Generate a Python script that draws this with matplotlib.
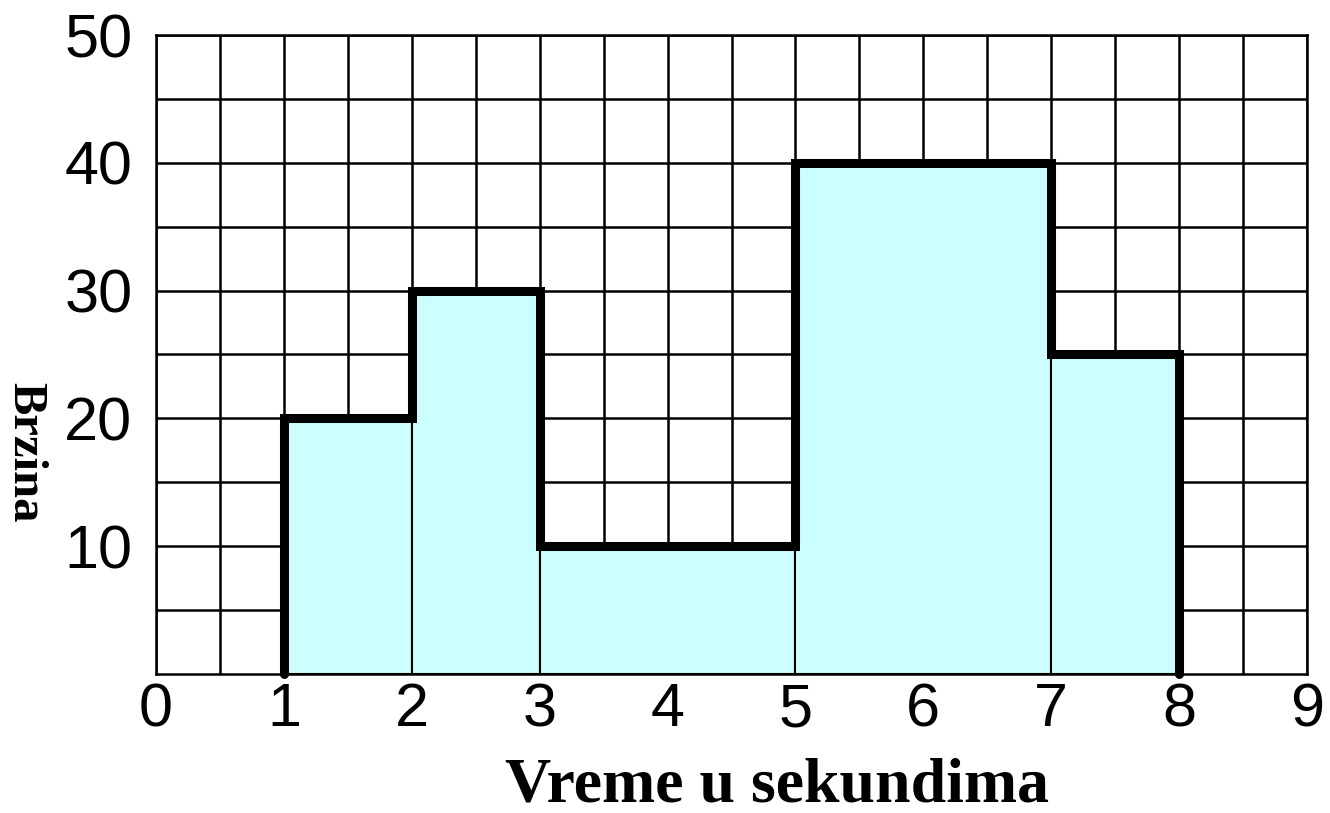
"""Step bar chart: speed over time (Brzina / Vreme u sekundima)."""

import matplotlib
matplotlib.use("Agg")
import matplotlib.pyplot as plt
import numpy as np

# interval edges (seconds) and speed in each interval
left_edges = [1, 2, 3, 5, 7]
right_edges = [2, 3, 5, 7, 8]
speeds = [20, 30, 10, 40, 25]

x_ticks = [0, 1, 2, 3, 4, 5, 6, 7, 8, 9]
y_ticks = [10, 20, 30, 40, 50]

FILL = "#CCFFFF"

fig = plt.figure(figsize=(13.3, 8.13), dpi=100)
ax = fig.add_axes([156 / 1330, 1 - 674 / 813, (1307 - 156) / 1330, (674 - 35) / 813])

ax.set_xlim(0, 9)
ax.set_ylim(0, 50)

# grid every half second and every 5 units, drawn below the bars
ax.set_xticks(x_ticks)
ax.set_yticks(y_ticks)
ax.set_xticks(np.arange(0.5, 9, 1.0), minor=True)
ax.set_yticks(np.arange(5, 50, 10), minor=True)
ax.grid(which="both", color="black", linewidth=1.8)
ax.set_axisbelow(True)

lefts = np.array(left_edges)
rights = np.array(right_edges)
ax.bar(lefts, speeds, width=rights - lefts, align="edge", color=FILL,
       edgecolor="black", linewidth=1.5, zorder=2)

# thick outline along the tops of the bars
xs = [lefts[0]]
ys = [0]
for l, r, s in zip(lefts, rights, speeds):
    xs += [l, r]
    ys += [s, s]
xs.append(rights[-1])
ys.append(0)
ax.plot(xs, ys, color="black", linewidth=6.5, solid_capstyle="round",
        solid_joinstyle="miter", zorder=3, clip_on=False)

ax.tick_params(which="both", length=0, labelsize=44)
ax.tick_params(axis="y", pad=17)
ax.tick_params(axis="x", pad=6)
for lab in ax.get_xticklabels() + ax.get_yticklabels():
    lab.set_family("Liberation Sans")

for sp in ax.spines.values():
    sp.set_linewidth(1.8)
    sp.set_zorder(4)

fig.text(777 / 1330, 1 - 801 / 813, "Vreme u sekundima", family="Liberation Serif",
         fontweight="bold", fontsize=46, ha="center", va="baseline")
fig.text(25 / 1330, 1 - 452 / 813, "Brzina", family="Liberation Serif",
         fontweight="bold", fontsize=35, rotation=270, ha="center", va="center")

fig.savefig("out.png", dpi=100)
